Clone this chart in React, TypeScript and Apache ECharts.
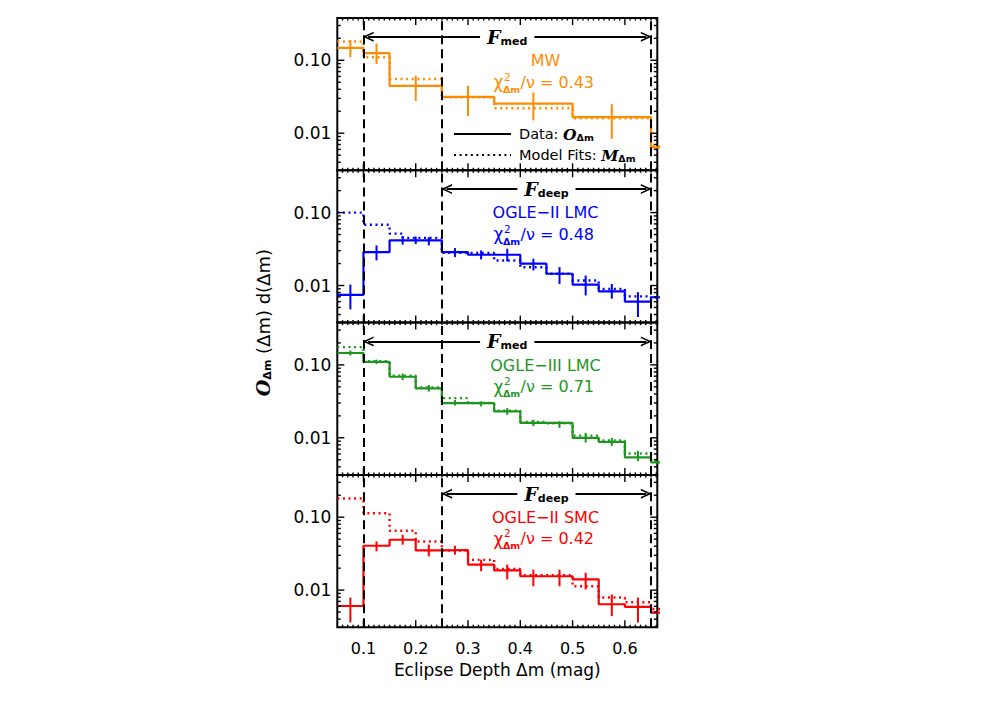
import React, { useEffect, useRef } from "react";
import * as echarts from "echarts";

// ---------- axis settings ----------
const X_MIN = 0.05;
const X_MAX = 0.662;
const Y_MIN = 0.0031;
const Y_MAX = 0.38;

const dividers = [0.1, 0.25, 0.65];
const xMajorTicks = [0.1, 0.2, 0.3, 0.4, 0.5, 0.6];
const xTickLabels = ["0.1", "0.2", "0.3", "0.4", "0.5", "0.6"];
const xMinorTicks = [
  0.06, 0.07, 0.08, 0.09, 0.11, 0.12, 0.13, 0.14, 0.15, 0.16, 0.17, 0.18, 0.19,
  0.21, 0.22, 0.23, 0.24, 0.25, 0.26, 0.27, 0.28, 0.29, 0.31, 0.32, 0.33, 0.34,
  0.35, 0.36, 0.37, 0.38, 0.39, 0.41, 0.42, 0.43, 0.44, 0.45, 0.46, 0.47, 0.48,
  0.49, 0.51, 0.52, 0.53, 0.54, 0.55, 0.56, 0.57, 0.58, 0.59, 0.61, 0.62, 0.63,
  0.64, 0.65, 0.66,
];
const yMajorTicks = [0.01, 0.1];
const yTickLabels = ["0.01", "0.10"];
const yMinorTicks = [
  0.004, 0.005, 0.006, 0.007, 0.008, 0.009, 0.02, 0.03, 0.04, 0.05, 0.06, 0.07,
  0.08, 0.09, 0.2, 0.3,
];

// ---------- MW ----------
const mwEdges = [0.05, 0.1, 0.15, 0.25, 0.35, 0.5, 0.65, 0.7];
const mwData = [0.148, 0.125, 0.0447, 0.0315, 0.0254, 0.0166, 0.0064];
const mwModelEdges = [0.05, 0.1, 0.15, 0.25, 0.35, 0.5, 0.65, 0.7];
const mwModel = [0.181, 0.11, 0.0553, 0.031, 0.022, 0.016, 0.0066];
const mwErrX = [0.075, 0.125, 0.2, 0.3, 0.425, 0.575];
const mwErrLo = [0.11, 0.089, 0.0277, 0.0172, 0.015, 0.0084];
const mwErrHi = [0.19, 0.169, 0.0614, 0.0447, 0.0361, 0.025];

// ---------- OGLE-II LMC ----------
const lmc2Edges = [0.05, 0.1, 0.15, 0.25, 0.3, 0.4, 0.45, 0.5, 0.55, 0.6, 0.65, 0.7];
const lmc2Data = [0.00745, 0.0287, 0.0416, 0.0287, 0.0264, 0.0199, 0.0145, 0.0103, 0.0083, 0.006, 0.0069];
const lmc2ModelEdges = [0.05, 0.1, 0.15, 0.175, 0.25, 0.35, 0.4, 0.45, 0.5, 0.55, 0.6, 0.65, 0.7];
const lmc2Model = [0.1, 0.068, 0.0514, 0.045, 0.028, 0.022, 0.0178, 0.0145, 0.0117, 0.009, 0.0071, 0.0068];
const lmc2ErrX = [0.075, 0.125, 0.175, 0.2, 0.225, 0.275, 0.325, 0.375, 0.425, 0.475, 0.525, 0.575, 0.625];
const lmc2ErrLo = [0.0047, 0.0221, 0.0363, 0.037, 0.0355, 0.0245, 0.0228, 0.0214, 0.0161, 0.0105, 0.0073, 0.0066, 0.0037];
const lmc2ErrHi = [0.0103, 0.0355, 0.0477, 0.047, 0.046, 0.0326, 0.0303, 0.032, 0.0233, 0.0179, 0.0137, 0.0105, 0.0081];

// ---------- OGLE-III LMC ----------
const lmc3Edges = [0.05, 0.1, 0.15, 0.2, 0.25, 0.35, 0.4, 0.5, 0.55, 0.6, 0.65, 0.7];
const lmc3Data = [0.1455, 0.11, 0.0687, 0.0477, 0.0298, 0.023, 0.016, 0.01, 0.0088, 0.0054, 0.0046];
const lmc3ModelEdges = [0.05, 0.1, 0.15, 0.2, 0.25, 0.3, 0.35, 0.4, 0.45, 0.5, 0.55, 0.6, 0.65, 0.7];
const lmc3Model = [0.175, 0.112, 0.071, 0.049, 0.035, 0.03, 0.0235, 0.0165, 0.0158, 0.0107, 0.0092, 0.0061, 0.0048];
const lmc3ErrX = [0.075, 0.125, 0.175, 0.225, 0.275, 0.325, 0.375, 0.425, 0.475, 0.525, 0.575, 0.625];
const lmc3ErrLo = [0.135, 0.103, 0.0618, 0.043, 0.0278, 0.0269, 0.0207, 0.0144, 0.0137, 0.0086, 0.0077, 0.0048];
const lmc3ErrHi = [0.158, 0.118, 0.0762, 0.0529, 0.0331, 0.0316, 0.0255, 0.0177, 0.0169, 0.0117, 0.01, 0.0066];

// ---------- OGLE-II SMC ----------
const smcEdges = [0.05, 0.1, 0.15, 0.2, 0.25, 0.3, 0.35, 0.4, 0.5, 0.55, 0.6, 0.65, 0.7];
const smcData = [0.00605, 0.0406, 0.049, 0.035, 0.0355, 0.0224, 0.0187, 0.0155, 0.014, 0.0064, 0.0059, 0.0049];
const smcModelEdges = [0.05, 0.1, 0.15, 0.2, 0.25, 0.3, 0.35, 0.4, 0.5, 0.55, 0.6, 0.65, 0.7];
const smcModel = [0.18, 0.113, 0.065, 0.0465, 0.035, 0.026, 0.0195, 0.016, 0.0113, 0.0079, 0.0068, 0.0055];
const smcErrX = [0.075, 0.125, 0.175, 0.225, 0.275, 0.325, 0.375, 0.425, 0.475, 0.525, 0.575, 0.625];
const smcErrLo = [0.0036, 0.034, 0.042, 0.029, 0.0306, 0.0182, 0.014, 0.0113, 0.0113, 0.0102, 0.0044, 0.0036];
const smcErrHi = [0.0079, 0.0465, 0.0574, 0.042, 0.0406, 0.0262, 0.0224, 0.0191, 0.0191, 0.0173, 0.0087, 0.0079];

const panelNames = ["MW", "OGLE\u2212II LMC", "OGLE\u2212III LMC", "OGLE\u2212II SMC"];
const chiValues = ["0.43", "0.48", "0.71", "0.42"];
const fractionLabels = ["med", "deep", "med", "deep"];
const arrowStarts = [0.1, 0.25, 0.1, 0.25];
const arrowEnds = [0.65, 0.65, 0.65, 0.65];
const ARROW_Y = 0.21;

// ---------- layout ----------
const FONT = "DejaVu Sans";
const GRID_LEFT = 337.3;
const GRID_W = 320;
const GRID_H = 152.3;
const GRID_TOPS = [18, 170.3, 322.6, 474.9];
const COLORS = ["#FF8C00", "#0000FF", "#1E961E", "#FF0000"];
const CHEV = "path://M5,0L10,10L8.3,10L5,3.4L1.7,10L0,10Z";

const panels = [
  { edges: mwEdges, data: mwData, mEdges: mwModelEdges, model: mwModel, ex: mwErrX, lo: mwErrLo, hi: mwErrHi },
  { edges: lmc2Edges, data: lmc2Data, mEdges: lmc2ModelEdges, model: lmc2Model, ex: lmc2ErrX, lo: lmc2ErrLo, hi: lmc2ErrHi },
  { edges: lmc3Edges, data: lmc3Data, mEdges: lmc3ModelEdges, model: lmc3Model, ex: lmc3ErrX, lo: lmc3ErrLo, hi: lmc3ErrHi },
  { edges: smcEdges, data: smcData, mEdges: smcModelEdges, model: smcModel, ex: smcErrX, lo: smcErrLo, hi: smcErrHi },
];

function stepPoints(edges: number[], vals: number[]) {
  const pts = vals.map((v, i) => [edges[i], v]);
  pts.push([edges[edges.length - 1], vals[vals.length - 1]]);
  return pts;
}

function matchLabel(v: number, ticks: number[], labels: string[]) {
  for (let k = 0; k < ticks.length; k++) {
    if (Math.abs(v - ticks[k]) < ticks[k] * 1e-4) return labels[k];
  }
  return "";
}

const tickData: number[][] = [
  ...yMajorTicks.map((v) => [X_MIN, v, 0]),
  ...yMinorTicks.map((v) => [X_MIN, v, 1]),
  ...xMajorTicks.map((v) => [v, Y_MIN, 2]),
  ...xMinorTicks.map((v) => [v, Y_MIN, 3]),
];

function tickRender(params: any, api: any) {
  const k = api.value(2);
  const st = { stroke: "#000", lineWidth: 1.4 };
  if (k < 2) {
    const v = api.value(1);
    const a = api.coord([X_MIN, v]);
    const b = api.coord([X_MAX, v]);
    const len = k === 0 ? 7 : 3.5;
    return {
      type: "group",
      children: [
        { type: "line", shape: { x1: a[0], y1: a[1], x2: a[0] + len, y2: a[1] }, style: st },
        { type: "line", shape: { x1: b[0], y1: b[1], x2: b[0] - len, y2: b[1] }, style: st },
      ],
    };
  }
  const v = api.value(0);
  const a = api.coord([v, Y_MIN]);
  const b = api.coord([v, Y_MAX]);
  const len = k === 2 ? 7 : 2.5;
  return {
    type: "group",
    children: [
      { type: "line", shape: { x1: a[0], y1: a[1], x2: a[0], y2: a[1] - len }, style: st },
      { type: "line", shape: { x1: b[0], y1: b[1], x2: b[0], y2: b[1] + len }, style: st },
    ],
  };
}

export default function App() {
  const ref = useRef<HTMLDivElement>(null);

  useEffect(() => {
    if (!ref.current) return;
    const chart = echarts.init(ref.current, undefined, { renderer: "svg" });

    const series: any[] = [];
    panels.forEach((p, i) => {
      const color = COLORS[i];
      series.push({
        name: "data" + i,
        type: "line",
        step: "end",
        xAxisIndex: i,
        yAxisIndex: i,
        data: stepPoints(p.edges, p.data),
        symbol: "none",
        showSymbol: false,
        lineStyle: { color, width: 2.2 },
        itemStyle: { color },
        z: 3,
        markLine: {
          silent: true,
          symbol: ["none", "none"],
          label: { show: false },
          lineStyle: { color: "#000", type: [9, 5], width: 2 },
          data: dividers.map((x) => ({ xAxis: x })),
        },
      });
      series.push({
        name: "model" + i,
        type: "line",
        step: "end",
        xAxisIndex: i,
        yAxisIndex: i,
        data: stepPoints(p.mEdges, p.model),
        symbol: "none",
        showSymbol: false,
        lineStyle: { color, width: 2.4, type: [2, 3.6] },
        itemStyle: { color },
        z: 3,
        markLine: {
          silent: true,
          symbolSize: [10, 11],
          lineStyle: { color: "#000", type: "solid", width: 2 },
          label: {
            show: true,
            position: "middle",
            distance: -10,
            formatter: "{f|F}{s|" + fractionLabels[i] + "}",
            backgroundColor: "#fff",
            padding: [0, 7, 0, 7],
            rich: {
              f: { fontFamily: "DejaVu Serif", fontStyle: "italic", fontWeight: "bold", fontSize: 19, color: "#000", lineHeight: 20 },
              s: { fontFamily: FONT, fontWeight: "bold", fontSize: 11, color: "#000", verticalAlign: "bottom", lineHeight: 12 },
            },
          },
          data: [
            [
              { coord: [arrowStarts[i] + 0.009, ARROW_Y], symbol: CHEV },
              { coord: [arrowEnds[i] - 0.009, ARROW_Y], symbol: CHEV },
            ],
          ],
        },
      });
      series.push({
        name: "err" + i,
        type: "custom",
        xAxisIndex: i,
        yAxisIndex: i,
        data: p.ex.map((x, k) => [x, p.lo[k], p.hi[k]]),
        encode: { x: 0, y: [1, 2] },
        z: 4,
        renderItem: (params: any, api: any) => {
          const a = api.coord([api.value(0), api.value(1)]);
          const b = api.coord([api.value(0), api.value(2)]);
          return {
            type: "line",
            shape: { x1: a[0], y1: a[1], x2: b[0], y2: b[1] },
            style: { stroke: color, lineWidth: 2 },
          };
        },
      });
      series.push({
        name: "ticks" + i,
        type: "custom",
        xAxisIndex: i,
        yAxisIndex: i,
        data: tickData,
        encode: { x: 0, y: 1 },
        silent: true,
        z: 5,
        renderItem: tickRender,
      });
    });

    // legend entries (black reference styles); symbol made invisible
    const hidden = { color: "rgba(0,0,0,0)", borderWidth: 0, opacity: 0 };
    series.push({
      name: "Data",
      type: "line",
      xAxisIndex: 0,
      yAxisIndex: 0,
      data: [],
      symbol: "none",
      lineStyle: { color: "#000", width: 2 },
      itemStyle: hidden,
    });
    series.push({
      name: "Model",
      type: "line",
      xAxisIndex: 0,
      yAxisIndex: 0,
      data: [],
      symbol: "none",
      lineStyle: { color: "#000", width: 2.4, type: [2, 3.6] },
      itemStyle: hidden,
    });

    const graphics: any[] = [];
    GRID_TOPS.forEach((t, i) => {
      const color = COLORS[i];
      const cx = 545.5;
      graphics.push({
        type: "text",
        x: cx,
        y: t + 42.5,
        z: 50,
        style: { text: panelNames[i], fill: color, fontFamily: FONT, fontSize: 16, lineHeight: 16, align: "center", verticalAlign: "middle" },
      });
      const gx = cx - 52;
      const gy = t + 64;
      graphics.push({
        type: "group",
        x: gx,
        y: gy,
        z: 50,
        children: [
          { type: "text", x: 0, y: 0, style: { text: "\u03c7", fill: color, fontFamily: FONT, fontSize: 17, lineHeight: 17, align: "left", verticalAlign: "middle" } },
          { type: "text", x: 10.5, y: -5.5, style: { text: "2", fill: color, fontFamily: FONT, fontSize: 10.5, lineHeight: 10, align: "left", verticalAlign: "middle" } },
          { type: "text", x: 9.5, y: 7, style: { text: "\u0394m", fill: color, fontFamily: FONT, fontWeight: "bold", fontSize: 9.5, lineHeight: 9, align: "left", verticalAlign: "middle" } },
          { type: "text", x: 27, y: 0, style: { text: "/\u03bd = " + chiValues[i], fill: color, fontFamily: FONT, fontSize: 16, lineHeight: 16, align: "left", verticalAlign: "middle" } },
        ],
      });
    });
    graphics.push({
      type: "text",
      x: 263,
      y: 322.6,
      rotation: Math.PI / 2,
      z: 50,
      style: {
        text: "{o|O}{s|\u0394m} (\u0394m) d(\u0394m)",
        align: "center",
        verticalAlign: "middle",
        fill: "#000",
        fontFamily: FONT,
        fontSize: 18,
        rich: {
          o: { fontFamily: "DejaVu Serif", fontStyle: "italic", fontWeight: "bold", fontSize: 19, fill: "#000" },
          s: { fontFamily: FONT, fontWeight: "bold", fontSize: 11, fill: "#000", verticalAlign: "bottom", lineHeight: 11 },
        },
      },
    });

    const option: any = {
      animation: false,
      backgroundColor: "#fff",
      textStyle: { fontFamily: FONT },
      grid: GRID_TOPS.map((t) => ({
        left: GRID_LEFT,
        top: t,
        width: GRID_W,
        height: GRID_H,
        show: true,
        borderColor: "#000",
        borderWidth: 2,
        backgroundColor: "rgba(0,0,0,0)",
        containLabel: false,
        outerBoundsMode: "none",
      })),
      xAxis: GRID_TOPS.map((_, i) => ({
        type: "value",
        gridIndex: i,
        min: X_MIN,
        max: X_MAX,
        axisLine: { show: false },
        axisTick: { show: false },
        splitLine: { show: false },
        axisLabel: {
          show: i === 3,
          margin: 13,
          color: "#000",
          fontFamily: FONT,
          fontSize: 16,
          showMinLabel: false,
          showMaxLabel: false,
          formatter: (v: number) => matchLabel(v, xMajorTicks, xTickLabels),
        },
        name: i === 3 ? "Eclipse Depth \u0394m (mag)" : "",
        nameLocation: "middle",
        nameGap: 34,
        nameTextStyle: { color: "#000", fontFamily: FONT, fontSize: 17 },
      })),
      yAxis: GRID_TOPS.map((_, i) => ({
        type: "log",
        logBase: 10,
        gridIndex: i,
        min: Y_MIN,
        max: Y_MAX,
        axisLine: { show: false },
        axisTick: { show: false },
        splitLine: { show: false },
        axisLabel: {
          margin: 6,
          color: "#000",
          fontFamily: FONT,
          fontSize: 17,
          formatter: (v: number) => matchLabel(v, yMajorTicks, yTickLabels),
        },
      })),
      legend: {
        data: ["Data", "Model"],
        orient: "vertical",
        left: 453,
        top: 126,
        padding: 0,
        itemWidth: 57,
        itemHeight: 14,
        itemGap: 5,
        selectedMode: false,
        itemStyle: { opacity: 0 },
        formatter: (name: string) =>
          name === "Data" ? "Data: {o|O}{s|\u0394m}" : "Model Fits: {o|M}{s|\u0394m}",
        textStyle: {
          color: "#000",
          fontFamily: FONT,
          fontSize: 14.5,
          lineHeight: 16,
          padding: [0, 0, 0, 3],
          rich: {
            o: { fontFamily: "DejaVu Serif", fontStyle: "italic", fontWeight: "bold", fontSize: 15.5, lineHeight: 16, color: "#000" },
            s: { fontFamily: FONT, fontWeight: "bold", fontSize: 9.5, color: "#000", verticalAlign: "bottom", lineHeight: 10 },
          },
        },
      },
      graphic: graphics,
      series,
    };

    chart.setOption(option);
    return () => chart.dispose();
  }, []);

  return (
    <div
      ref={ref}
      style={{ position: "fixed", left: 0, top: 0, width: 997, height: 712, background: "#fff" }}
    />
  );
}
